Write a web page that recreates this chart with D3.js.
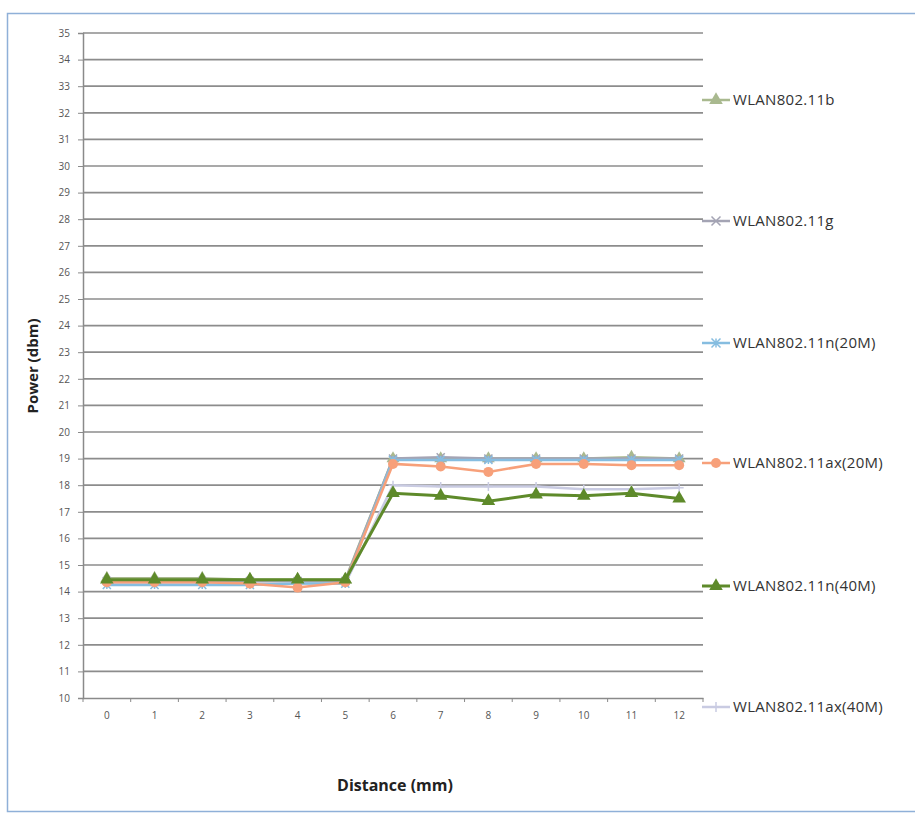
<!DOCTYPE html>
<html>
<head>
<meta charset="utf-8">
<script src="https://cdn.jsdelivr.net/npm/d3@7"></script>
<style>
  html, body { margin: 0; padding: 0; background: #fff; }
  svg { display: block; }
</style>
</head>
<body>
<svg id="chart" width="915" height="822"></svg>
<script>
const categories = [0,1,2,3,4,5,6,7,8,9,10,11,12];
const seriesNames = ["WLAN802.11b","WLAN802.11g","WLAN802.11n(20M)","WLAN802.11ax(20M)","WLAN802.11n(40M)","WLAN802.11ax(40M)"];
const b11   = [14.5,14.5,14.5,14.45,14.45,14.45,19.0,19.0,19.0,19.0,19.0,19.05,19.0];
const g11   = [14.4,14.4,14.4,14.4,14.4,14.4,19.0,19.05,19.0,19.0,19.0,19.0,19.0];
const n20   = [14.25,14.25,14.25,14.25,14.3,14.3,18.95,18.95,18.95,18.95,18.95,18.95,18.95];
const ax20  = [14.35,14.35,14.35,14.3,14.15,14.35,18.8,18.7,18.5,18.8,18.8,18.75,18.75];
const n40   = [14.45,14.45,14.45,14.45,14.45,14.45,17.7,17.6,17.4,17.65,17.6,17.7,17.5];
const ax40  = [14.3,14.3,14.3,14.3,14.3,14.3,18.0,17.95,17.95,17.95,17.85,17.85,17.9];
const yTicks = d3.range(10, 36, 1);
const colors = ["#a9b98f","#a4a4b4","#86bde0","#f7a07a","#5e8a2a","#c9cbe2"];
const markers = ["triangle","cross","star","circle","triangle","plus"];
const seriesValues = [b11, g11, n20, ax20, n40, ax40];

const svg = d3.select("#chart");
const plot = {left: 83, right: 703, top: 33, bottom: 698};

// outer frame
svg.append("rect").attr("x", 7.5).attr("y", 13.5).attr("width", 915).attr("height", 798)
  .attr("fill", "none").attr("stroke", "#8fb0d8").attr("stroke-width", 1.5);

const x = d3.scaleBand().domain(categories).range([plot.left, plot.right]).paddingInner(0).paddingOuter(0);
const y = d3.scaleLinear().domain([10, 35]).range([plot.bottom, plot.top]);

// gridlines
svg.append("g").selectAll("line").data(yTicks.filter(d => d > 10)).join("line")
  .attr("x1", plot.left).attr("x2", plot.right)
  .attr("y1", d => y(d)).attr("y2", d => y(d))
  .attr("stroke", "#8c8c8c").attr("stroke-width", 1.7);

// y axis
const yAxis = d3.axisLeft(y).tickValues(yTicks).tickSize(5).tickPadding(8).tickFormat(d3.format("d"));
const gy = svg.append("g").attr("transform", `translate(${plot.left},0)`).call(yAxis);
gy.select(".domain").attr("stroke", "#8a8a8a").attr("stroke-width", 1.5);
gy.selectAll(".tick line").attr("stroke", "#8a8a8a");
gy.selectAll("text").attr("font-family", "Open Sans, sans-serif").attr("font-size", 10).attr("fill", "#555");

// x axis
const xAxis = d3.axisBottom(x).tickSize(0).tickPadding(14);
const gx = svg.append("g").attr("transform", `translate(0,${plot.bottom})`).call(xAxis);
gx.select(".domain").attr("stroke", "#8a8a8a").attr("stroke-width", 1.7);
gx.selectAll("text").attr("font-family", "Open Sans, sans-serif").attr("font-size", 10).attr("fill", "#555");
// category boundary ticks
svg.append("g").selectAll("line").data(categories.concat([null])).join("line")
  .attr("x1", (d, i) => plot.left + i * x.bandwidth()).attr("x2", (d, i) => plot.left + i * x.bandwidth())
  .attr("y1", plot.bottom).attr("y2", plot.bottom + 4)
  .attr("stroke", "#8a8a8a").attr("stroke-width", 1);

// axis titles
svg.append("text").attr("x", 395).attr("y", 791).attr("text-anchor", "middle")
  .attr("font-family", "Open Sans, sans-serif").attr("font-weight", "bold").attr("font-size", 16).attr("fill", "#222")
  .text("Distance (mm)");
svg.append("text").attr("transform", "translate(38,366) rotate(-90)").attr("text-anchor", "middle")
  .attr("font-family", "Open Sans, sans-serif").attr("font-weight", "bold").attr("font-size", 15).attr("fill", "#222")
  .text("Power (dbm)");

function drawMarker(g, type, cx, cy, color, s) {
  if (type === "triangle") {
    g.append("path").attr("d", d3.symbol(d3.symbolTriangle, s * 8)()).attr("transform", `translate(${cx},${cy})`).attr("fill", color);
  } else if (type === "circle") {
    g.append("circle").attr("cx", cx).attr("cy", cy).attr("r", s * 0.5).attr("fill", color);
  } else if (type === "cross") {
    const r = s * 0.45;
    g.append("path").attr("d", `M${cx-r},${cy-r}L${cx+r},${cy+r}M${cx-r},${cy+r}L${cx+r},${cy-r}`).attr("stroke", color).attr("stroke-width", 1.5).attr("fill", "none");
  } else if (type === "star") {
    const r = s * 0.45;
    g.append("path").attr("d", `M${cx-r},${cy-r}L${cx+r},${cy+r}M${cx-r},${cy+r}L${cx+r},${cy-r}M${cx},${cy-r}L${cx},${cy+r}`).attr("stroke", color).attr("stroke-width", 1.5).attr("fill", "none");
  } else if (type === "plus") {
    const r = s * 0.5;
    g.append("path").attr("d", `M${cx-r},${cy}L${cx+r},${cy}M${cx},${cy-r}L${cx},${cy+r}`).attr("stroke", color).attr("stroke-width", 1.5).attr("fill", "none");
  }
}

const line = d3.line().x((d, i) => x(categories[i]) + x.bandwidth() / 2).y(d => y(d));
const drawOrder = [5, 0, 1, 2, 3, 4];
drawOrder.forEach(k => {
  const g = svg.append("g");
  g.append("path").datum(seriesValues[k]).attr("d", line).attr("fill", "none")
    .attr("stroke", colors[k]).attr("stroke-width", k === 4 ? 3 : 2.5);
  seriesValues[k].forEach((v, i) => {
    drawMarker(g, markers[k], x(categories[i]) + x.bandwidth() / 2, y(v), colors[k], k === 3 || k === 4 ? 10 : 9);
  });
});

// legend
const legendY = [100, 221, 343, 463, 586, 707];
seriesNames.forEach((name, k) => {
  const g = svg.append("g");
  const ly = legendY[k];
  g.append("line").attr("x1", 702).attr("x2", 730).attr("y1", ly).attr("y2", ly)
    .attr("stroke", colors[k]).attr("stroke-width", k === 4 ? 3 : 2.5);
  drawMarker(g, markers[k], 716, ly, colors[k], 10);
  g.append("text").attr("x", 733).attr("y", ly + 5).attr("font-family", "Open Sans, sans-serif")
    .attr("font-size", 15).attr("letter-spacing", 0.3).attr("fill", "#333").text(name);
});
</script>
</body>
</html>
